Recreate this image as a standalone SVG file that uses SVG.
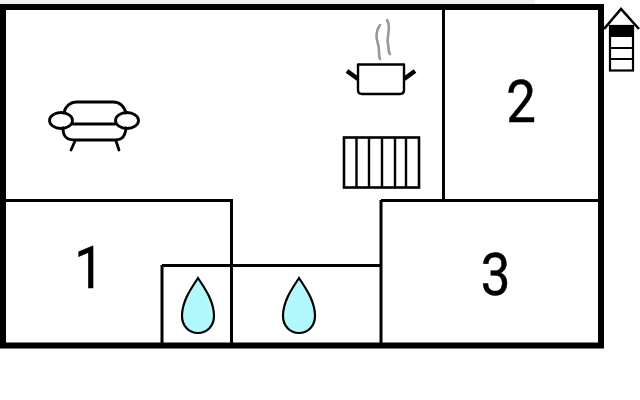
<svg xmlns="http://www.w3.org/2000/svg" width="640" height="400" viewBox="0 0 640 400">
<style>
.o{fill:none;stroke:#000;stroke-width:2.8;stroke-linejoin:round;stroke-linecap:round}
.w{fill:none;stroke:#000;stroke-width:3;stroke-linecap:butt}
.d{fill:#b2f9fd;stroke:#000;stroke-width:2.2}
.n{font-family:Roboto,"Liberation Sans",Arial,sans-serif;font-size:60px;fill:#000;stroke:#000;stroke-width:.5;text-anchor:middle}
</style>
<defs><path id="drop" d="M0,0C5,8 16,22 16,38C16,48 9,55 0,55C-9,55 -16,48 -16,38C-16,22 -5,8 0,0Z"/></defs>
<rect width="640" height="400" fill="#fff"/>
<rect x="0" y="0" width="535" height="4" fill="#f0f0f0"/>
<g id="walls">
<rect x="3" y="7" width="598" height="338.500" fill="none" stroke="#000" stroke-width="6"/>
<path class="w" d="M443.500,8V200M5,200.500H231.500V344M381,200.500H600M381,200V344M162,265.500H381M162,265V344"/>
</g>
<g id="room-1"><text class="n" transform="translate(89,288) scale(.88,1)">1</text></g>
<g id="room-2"><text class="n" transform="translate(521,122) scale(.88,1)">2</text></g>
<g id="room-3"><text class="n" transform="translate(495.500,295) scale(.88,1)">3</text></g>
<g id="sofa">
<path class="o" d="M64,113C65,106 71,102 76,102H113C119,102 124,106 126,113M73,124H115M63,128C63,139 69,140 76,140H113C120,140 125,139 126,128M75,141L71,150M116,141L119,150"/>
<ellipse class="o" cx="61" cy="120.500" rx="11.500" ry="8"/>
<ellipse class="o" cx="127" cy="120.500" rx="11.500" ry="8"/>
</g>
<g id="pot">
<path d="M380,25C375,32 376,38 378,44C380,50 378,55 380,59M387,20C392,28 386,36 388,44C389,48 388,52 390,54" fill="none" stroke="#999" stroke-width="2.600" stroke-linecap="round"/>
<path class="o" d="M358,64.500H404V90C404,93 403,94 400,94H362C359,94 358,93 358,90Z" style="stroke-width:2.400"/>
<path d="M347,71L358,79M415,71L404,79" fill="none" stroke="#000" stroke-width="4.500"/>
</g>
<g id="radiator">
<rect x="344" y="137.500" width="75" height="50" fill="none" stroke="#000" stroke-width="2.600"/>
<path d="M356.500,137V188M369,137V188M382,137V188M395,137V188M406,137V188" fill="none" stroke="#000" stroke-width="2.400"/>
</g>
<g id="drop-1"><use href="#drop" class="d" x="198" y="278"/></g>
<g id="drop-2"><use href="#drop" class="d" x="299" y="278"/></g>
<g id="stairs">
<path d="M604,29L621,9L639,29" fill="none" stroke="#000" stroke-width="2.600"/>
<rect x="610" y="26" width="23" height="44.500" fill="#fff" stroke="#000" stroke-width="2.200"/>
<rect x="610" y="26" width="23" height="11" fill="#000"/>
<path d="M610,48H633M610,59H633" stroke="#000" stroke-width="2.200"/>
</g>
</svg>
